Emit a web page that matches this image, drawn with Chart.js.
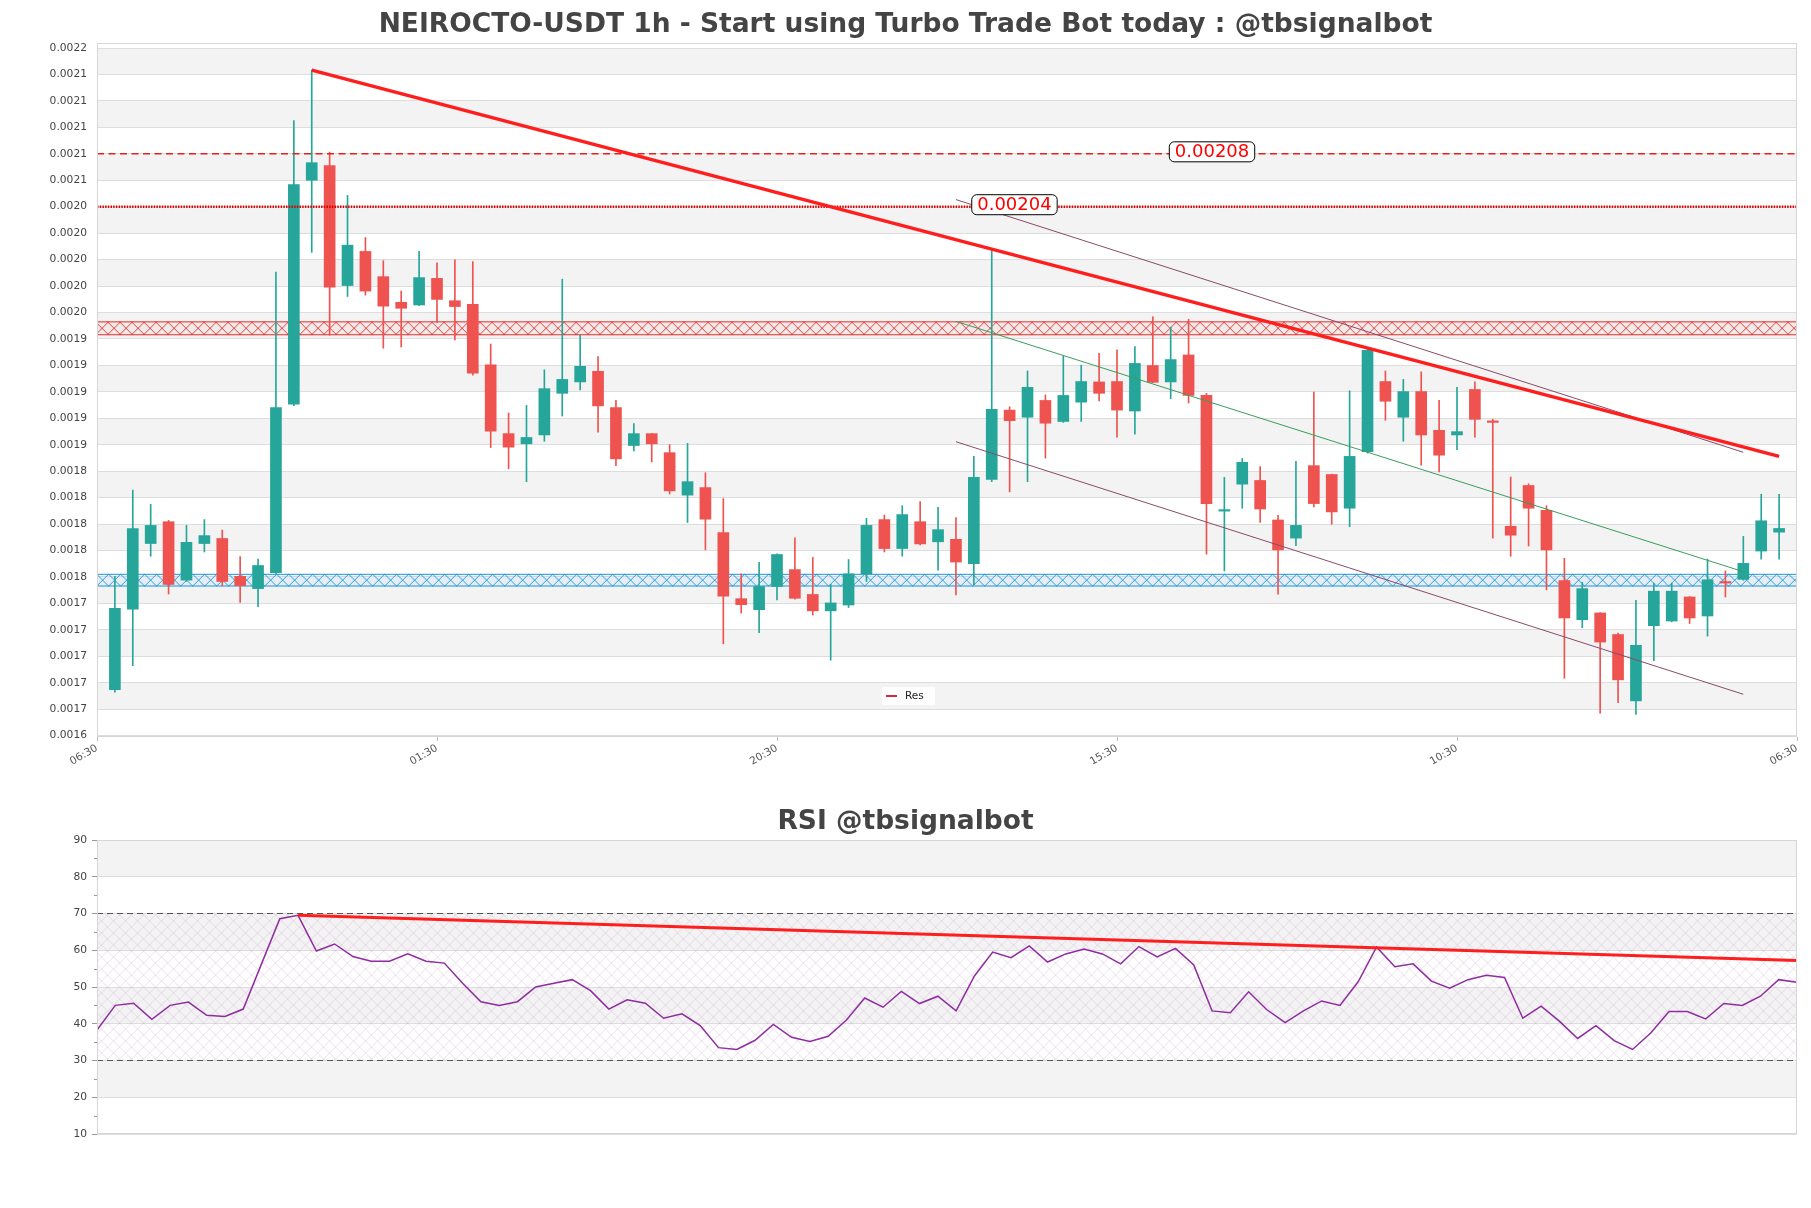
<!DOCTYPE html>
<html>
<head>
<meta charset="utf-8">
<title>NEIROCTO-USDT 1h</title>
<script src="https://cdn.jsdelivr.net/npm/chart.js@4.4.1/dist/chart.umd.min.js"></script>
<style>
  html, body { margin: 0; padding: 0; background: #fff; }
  #wrap { position: relative; width: 1811px; height: 1208px; }
  #priceBox { position: absolute; left: 0; top: 0; width: 1811px; height: 780px; }
  #rsiBox { position: absolute; left: 0; top: 780px; width: 1811px; height: 428px; }
</style>
</head>
<body>
<div id="wrap">
  <div id="priceBox"><canvas id="price"></canvas></div>
  <div id="rsiBox"><canvas id="rsi"></canvas></div>
</div>
<script>
// hourly candles, oldest first
const opens = [
  0.0016748, 0.0017356, 0.0017853, 0.0018018, 0.0017576, 0.0017853, 0.0017891, 0.0017605, 0.0017512, 0.0017633,
  0.0018906, 0.0020600, 0.0020711, 0.0019804, 0.0020062, 0.0019871, 0.0019677, 0.0019657, 0.0019858, 0.0019689,
  0.0019661, 0.0019205, 0.0018684, 0.0018607, 0.0018674, 0.0018989, 0.0019075, 0.0019155, 0.0018881, 0.0018594,
  0.0018684, 0.0018540, 0.0018219, 0.0018276, 0.0017936, 0.0017436, 0.0017353, 0.0017528, 0.0017656, 0.0017468,
  0.0017344, 0.0017388, 0.0017624, 0.0018034, 0.0017815, 0.0018018, 0.0017866, 0.0017885, 0.0017700, 0.0018337,
  0.0018862, 0.0018808, 0.0018935, 0.0018776, 0.0018922, 0.0019075, 0.0019078, 0.0018855, 0.0019199, 0.0019075,
  0.0019279, 0.0018973, 0.0018098, 0.0018302, 0.0018330, 0.0018031, 0.0017894, 0.0018442, 0.0018375, 0.0018120,
  0.0018547, 0.0019078, 0.0018808, 0.0019002, 0.0018709, 0.0018674, 0.0019018, 0.0018776, 0.0017983, 0.0018292,
  0.0018104, 0.0017573, 0.0017277, 0.0017328, 0.0017165, 0.0016663, 0.0017232, 0.0017267, 0.0017449, 0.0017305,
  0.0017560, 0.0017582, 0.0017796, 0.0017939
];
const highs = [
  0.0017605, 0.0018257, 0.0018149, 0.0018028, 0.0017990, 0.0018034, 0.0017955, 0.0017754, 0.0017735, 0.0019906,
  0.0021051, 0.0021433, 0.0020813, 0.0020485, 0.0020167, 0.0019992, 0.0019762, 0.0020062, 0.0019976, 0.0019998,
  0.0019985, 0.0019361, 0.0018840, 0.0018897, 0.0019167, 0.0019852, 0.0019428, 0.0019266, 0.0018935, 0.0018760,
  0.0018686, 0.0018601, 0.0018610, 0.0018388, 0.0018193, 0.0017624, 0.0017710, 0.0017776, 0.0017897, 0.0017748,
  0.0017544, 0.0017732, 0.0018044, 0.0018069, 0.0018139, 0.0018171, 0.0018127, 0.0018050, 0.0018512, 0.0020071,
  0.0018887, 0.0019158, 0.0018976, 0.0019269, 0.0019202, 0.0019291, 0.0019317, 0.0019342, 0.0019568, 0.0019489,
  0.0019549, 0.0018989, 0.0018353, 0.0018496, 0.0018435, 0.0018066, 0.0018474, 0.0018999, 0.0018378, 0.0019008,
  0.0019320, 0.0019158, 0.0019094, 0.0019151, 0.0018935, 0.0019034, 0.0019075, 0.0018792, 0.0018356, 0.0018305,
  0.0018139, 0.0017741, 0.0017560, 0.0017330, 0.0017175, 0.0017423, 0.0017554, 0.0017554, 0.0017452, 0.0017735,
  0.0017646, 0.0017907, 0.0018225, 0.0018225
];
const lows = [
  0.0016729, 0.0016930, 0.0017757, 0.0017471, 0.0017566, 0.0017789, 0.0017535, 0.0017407, 0.0017375, 0.0017624,
  0.0018895, 0.0020055, 0.0019428, 0.0019721, 0.0019731, 0.0019330, 0.0019339, 0.0019651, 0.0019524, 0.0019393,
  0.0019126, 0.0018579, 0.0018419, 0.0018321, 0.0018626, 0.0018817, 0.0019015, 0.0018696, 0.0018442, 0.0018553,
  0.0018470, 0.0018228, 0.0018012, 0.0017805, 0.0017095, 0.0017328, 0.0017178, 0.0017426, 0.0017433, 0.0017312,
  0.0016971, 0.0017369, 0.0017566, 0.0017789, 0.0017757, 0.0017843, 0.0017652, 0.0017465, 0.0017541, 0.0018321,
  0.0018244, 0.0018321, 0.0018499, 0.0018769, 0.0018776, 0.0018932, 0.0018658, 0.0018680, 0.0019069, 0.0018948,
  0.0018916, 0.0017773, 0.0017646, 0.0018120, 0.0018012, 0.0017471, 0.0017837, 0.0018130, 0.0017999, 0.0017980,
  0.0018537, 0.0018785, 0.0018626, 0.0018445, 0.0018394, 0.0018563, 0.0018658, 0.0017894, 0.0017757, 0.0017834,
  0.0017503, 0.0016834, 0.0017216, 0.0016570, 0.0016650, 0.0016561, 0.0016968, 0.0017261, 0.0017248, 0.0017153,
  0.0017449, 0.0017576, 0.0017735, 0.0017735
];
const closes = [
  0.0017363, 0.0017967, 0.0017990, 0.0017544, 0.0017862, 0.0017913, 0.0017566, 0.0017535, 0.0017687, 0.0018881,
  0.0020568, 0.0020733, 0.0019791, 0.0020109, 0.0019762, 0.0019648, 0.0019632, 0.0019864, 0.0019699, 0.0019645,
  0.0019142, 0.0018703, 0.0018582, 0.0018655, 0.0019024, 0.0019094, 0.0019193, 0.0018894, 0.0018493, 0.0018684,
  0.0018607, 0.0018251, 0.0018321, 0.0018037, 0.0017455, 0.0017391, 0.0017528, 0.0017770, 0.0017439, 0.0017344,
  0.0017404, 0.0017624, 0.0017990, 0.0017815, 0.0018072, 0.0017850, 0.0017958, 0.0017713, 0.0018353, 0.0018868,
  0.0018782, 0.0019034, 0.0018763, 0.0018973, 0.0019078, 0.0018989, 0.0018862, 0.0019215, 0.0019072, 0.0019244,
  0.0018973, 0.0018155, 0.0018104, 0.0018467, 0.0018114, 0.0017805, 0.0017990, 0.0018155, 0.0018092, 0.0018512,
  0.0019314, 0.0018929, 0.0019002, 0.0018674, 0.0018521, 0.0018699, 0.0018792, 0.0018769, 0.0017916, 0.0018120,
  0.0017805, 0.0017290, 0.0017512, 0.0017108, 0.0016822, 0.0017083, 0.0017493, 0.0017493, 0.0017290, 0.0017579,
  0.0017554, 0.0017703, 0.0018025, 0.0017967
];

// price axis ticks and time labels
const priceTicks = [
  0.00164, 0.00166, 0.00168, 0.00170, 0.00172, 0.00174, 0.00176, 0.00178, 0.00180,
  0.00182, 0.00184, 0.00186, 0.00188, 0.00190, 0.00192, 0.00194, 0.00196, 0.00198,
  0.00200, 0.00202, 0.00204, 0.00206, 0.00208, 0.00210, 0.00212, 0.00214, 0.00216
];
const timeTickIndex = [-1, 18, 37, 56, 75, 94];
const timeTickLabels = ['06:30', '01:30', '20:30', '15:30', '10:30', '06:30'];

// drawn levels and lines (candle index, price)
const resLineX = [11, 93];
const resLineY = [0.0021433, 0.0018512];
const channelX = [47, 91];
const channelTopY = [0.0020454, 0.0018543];
const channelMidY = [0.0019533, 0.0017640];
const channelLowY = [0.0018623, 0.0016713];
const dashedLevel = 0.00208;
const dottedLevel = 0.00204;
const resZone = [0.0019428, 0.0019533];
const supZone = [0.0017528, 0.0017624];

// RSI
const rsiValues = [
  38.3, 45.0, 45.6, 41.2, 45.0, 45.9, 42.3, 42.0, 44.0, 56.3,
  68.6, 69.5, 59.8, 61.7, 58.3, 57.0, 57.0, 59.0, 57.0, 56.5,
  51.0, 46.0, 45.0, 46.0, 50.0, 51.0, 52.0, 49.0, 44.0, 46.5,
  45.6, 41.5, 42.7, 39.5, 33.5, 33.0, 35.5, 39.8, 36.3, 35.2,
  36.6, 41.0, 47.0, 44.5, 48.8, 45.5, 47.5, 43.5, 53.0, 59.5,
  58.0, 61.2, 56.8, 59.0, 60.3, 59.0, 56.3, 61.0, 58.2, 60.5,
  56.0, 43.5, 43.0, 48.7, 43.8, 40.3, 43.5, 46.2, 45.0, 51.5,
  60.9, 55.5, 56.3, 51.6, 49.7, 52.0, 53.2, 52.6, 41.5, 44.8,
  40.7, 36.0, 39.5, 35.4, 33.0, 37.5, 43.3, 43.3, 41.3, 45.5,
  45.0, 47.5, 52.0, 51.3
];
const rsiTicks = [10, 20, 30, 40, 50, 60, 70, 80, 90];
const rsiMinorTicks = [15, 25, 35, 45, 55, 65, 75, 85];
const rsiTrendX = [11, 93];
const rsiTrendY = [69.5, 57.2];
const rsiUpper = 70;
const rsiLower = 30;

const GREEN = '#26a69a';
const RED = '#ef5350';

Chart.defaults.font.family = '"DejaVu Sans", sans-serif';
Chart.defaults.color = '#444';

function seg(xs, ys) {
  return xs.map((x, i) => ({ x: x, y: ys[i] }));
}

function hatch(ctx, a, top, bot, color, step, width, edges, fill) {
  const h = bot - top;
  ctx.save();
  ctx.beginPath();
  ctx.rect(a.left, top, a.right - a.left, h);
  ctx.clip();
  if (fill) {
    ctx.fillStyle = fill;
    ctx.fillRect(a.left, top, a.right - a.left, h);
  }
  ctx.strokeStyle = color;
  ctx.lineWidth = width;
  ctx.beginPath();
  for (let x = a.left - h; x < a.right + h; x += step) {
    ctx.moveTo(x, top); ctx.lineTo(x + h, bot);
    ctx.moveTo(x + h, top); ctx.lineTo(x, bot);
  }
  ctx.stroke();
  ctx.restore();
  if (edges) {
    ctx.save();
    ctx.strokeStyle = color;
    ctx.lineWidth = 1;
    ctx.beginPath();
    ctx.moveTo(a.left, top + 0.5); ctx.lineTo(a.right, top + 0.5);
    ctx.moveTo(a.left, bot - 0.5); ctx.lineTo(a.right, bot - 0.5);
    ctx.stroke();
    ctx.restore();
  }
}

// alternating grey bands between ticks, frame around the plot
const bandPlugin = {
  id: 'bands',
  beforeDraw(chart, args, opts) {
    const { ctx, chartArea: a } = chart;
    const y = chart.scales.y;
    const vals = opts.ticks.slice().sort((p, q) => q - p);
    ctx.save();
    ctx.fillStyle = '#f3f3f3';
    for (let k = 0; k + 1 < vals.length; k += 2) {
      const t = y.getPixelForValue(vals[k]);
      const b = y.getPixelForValue(vals[k + 1]);
      ctx.fillRect(a.left, t, a.right - a.left, b - t);
    }
    ctx.restore();
  },
  afterDraw(chart) {
    const { ctx, chartArea: a } = chart;
    ctx.save();
    ctx.strokeStyle = '#d6d6d6';
    ctx.lineWidth = 1;
    ctx.strokeRect(a.left + 0.5, a.top + 0.5, a.right - a.left - 1, a.bottom - a.top - 1);
    ctx.restore();
  }
};

function tag(ctx, cx, cy, text) {
  ctx.save();
  ctx.font = '18px "DejaVu Sans", sans-serif';
  const w = ctx.measureText(text).width + 11;
  const h = 20;
  const x = cx - w / 2, y = cy - h / 2;
  ctx.beginPath();
  ctx.roundRect(x, y, w, h, 5);
  ctx.fillStyle = '#fff';
  ctx.fill();
  ctx.strokeStyle = '#000';
  ctx.lineWidth = 1;
  ctx.stroke();
  ctx.fillStyle = '#f00';
  ctx.textAlign = 'center';
  ctx.textBaseline = 'middle';
  ctx.fillText(text, cx, cy + 1);
  ctx.restore();
}

const pricePlugin = {
  id: 'priceExtras',
  beforeDatasetsDraw(chart) {
    const { ctx, chartArea: a } = chart;
    const y = chart.scales.y;
    hatch(ctx, a, y.getPixelForValue(resZone[1]), y.getPixelForValue(resZone[0]),
      '#e0302c', 12, 0.9, true, 'rgba(255,120,120,0.08)');
    hatch(ctx, a, y.getPixelForValue(supZone[1]), y.getPixelForValue(supZone[0]),
      '#1b96e0', 12, 0.9, true, 'rgba(80,170,255,0.08)');
  },
  afterDatasetsDraw(chart) {
    const { ctx, chartArea: a } = chart;
    const x = chart.scales.x, y = chart.scales.y;
    tag(ctx, x.getPixelForValue(50.27), y.getPixelForValue(dottedLevel) - 2, String(dottedLevel));
    tag(ctx, x.getPixelForValue(61.31), y.getPixelForValue(dashedLevel) - 2, String(dashedLevel));

    // legend
    const lx = a.left + 785, ly = a.bottom - 50;
    ctx.save();
    ctx.fillStyle = 'rgba(255,255,255,0.85)';
    ctx.fillRect(lx, ly, 53, 18);
    ctx.strokeStyle = '#d42a35';
    ctx.lineWidth = 2;
    ctx.beginPath();
    ctx.moveTo(lx + 4, ly + 9); ctx.lineTo(lx + 15, ly + 9);
    ctx.stroke();
    ctx.fillStyle = '#222';
    ctx.font = '10.5px "DejaVu Sans", sans-serif';
    ctx.textBaseline = 'middle';
    ctx.fillText('Res', lx + 23, ly + 9);
    ctx.restore();
  }
};

const idx = opens.map((_, i) => i);
const candleColors = idx.map(i => closes[i] >= opens[i] ? GREEN : RED);

new Chart(document.getElementById('price'), {
  type: 'bar',
  data: {
    datasets: [
      {
        type: 'line', label: 'Res', data: seg(resLineX, resLineY),
        borderColor: '#ff1e1e', borderWidth: 3.5, pointRadius: 0, order: 0
      },
      {
        type: 'line', label: 'channel top', data: seg(channelX, channelTopY),
        borderColor: '#8a4a68', borderWidth: 1, pointRadius: 0, order: 1
      },
      {
        type: 'line', label: 'channel mid', data: seg(channelX, channelMidY),
        borderColor: '#3a9d5a', borderWidth: 1, pointRadius: 0, order: 1
      },
      {
        type: 'line', label: 'channel low', data: seg(channelX, channelLowY),
        borderColor: '#8a4a68', borderWidth: 1, pointRadius: 0, order: 1
      },
      {
        type: 'line', label: 'level dashed', data: seg([-1, 94], [dashedLevel, dashedLevel]),
        borderColor: '#e8201c', borderWidth: 1.5, borderDash: [7, 4.5], pointRadius: 0, order: 2
      },
      {
        type: 'line', label: 'level dotted', data: seg([-1, 94], [dottedLevel, dottedLevel]),
        borderColor: '#dd0000', borderWidth: 2.5, borderDash: [1.5, 1.2], pointRadius: 0, order: 2
      },
      {
        label: 'body', data: idx.map(i => ({ x: i, y: [opens[i], closes[i]] })),
        backgroundColor: candleColors, barThickness: 11, minBarLength: 1.5,
        grouped: false, order: 3
      },
      {
        label: 'wick', data: idx.map(i => ({ x: i, y: [lows[i], highs[i]] })),
        backgroundColor: candleColors, barThickness: 1, grouped: false, order: 4
      }
    ]
  },
  options: {
    responsive: true,
    maintainAspectRatio: false,
    devicePixelRatio: 1,
    animation: false,
    events: [],
    layout: { padding: { left: 14, right: 14, top: 0, bottom: 0 } },
    plugins: {
      legend: { display: false },
      tooltip: { enabled: false },
      title: {
        display: true,
        text: 'NEIROCTO-USDT 1h - Start using Turbo Trade Bot today : @tbsignalbot',
        color: '#444',
        font: { size: 26.5, weight: 'bold' },
        padding: { top: 9.6, bottom: 1.6 }
      },
      bands: { ticks: priceTicks }
    },
    scales: {
      x: {
        type: 'linear', min: -1, max: 94, offset: false,
        afterBuildTicks: s => { s.ticks = timeTickIndex.map(v => ({ value: v })); },
        afterFit: s => { s.height = 43; },
        grid: { display: true, offset: false, drawOnChartArea: false, drawTicks: true, tickLength: 4, tickColor: '#bbb' },
        border: { display: false },
        ticks: {
          autoSkip: false, minRotation: 30, maxRotation: 30, padding: 1,
          color: '#555', font: { size: 10.5 },
          callback: v => timeTickLabels[timeTickIndex.indexOf(v)]
        }
      },
      y: {
        type: 'linear', min: 0.001639, max: 0.0021638,
        afterBuildTicks: s => { s.ticks = priceTicks.map(v => ({ value: v })); },
        afterFit: s => { s.width = 83; },
        grid: { color: '#dddddd', drawTicks: false },
        border: { display: false },
        ticks: { padding: 10, color: '#444', font: { size: 10.7 }, callback: v => v.toFixed(4) }
      }
    }
  },
  plugins: [bandPlugin, pricePlugin]
});

const rsiPlugin = {
  id: 'rsiExtras',
  beforeDatasetsDraw(chart) {
    const { ctx, chartArea: a } = chart;
    const y = chart.scales.y;
    hatch(ctx, a, y.getPixelForValue(rsiUpper), y.getPixelForValue(rsiLower),
      'rgba(200,160,210,0.5)', 12, 0.7, false, null);
  },
  afterDraw(chart) {
    const { ctx, chartArea: a } = chart;
    const y = chart.scales.y;
    ctx.save();
    ctx.strokeStyle = '#999';
    ctx.lineWidth = 1;
    ctx.beginPath();
    rsiMinorTicks.forEach(v => {
      const p = Math.round(y.getPixelForValue(v)) + 0.5;
      ctx.moveTo(a.left - 3, p); ctx.lineTo(a.left, p);
    });
    ctx.stroke();
    ctx.restore();
  }
};

const rsiIdx = rsiValues.map((_, i) => i);

new Chart(document.getElementById('rsi'), {
  type: 'line',
  data: {
    datasets: [
      {
        label: 'RSI trend', data: seg(rsiTrendX, rsiTrendY),
        borderColor: '#ff1e1e', borderWidth: 3, pointRadius: 0, order: 0
      },
      {
        label: 'RSI', data: rsiIdx.map(i => ({ x: i, y: rsiValues[i] })),
        borderColor: '#8e2ca0', borderWidth: 1.5, pointRadius: 0, tension: 0, order: 1
      },
      {
        label: 'overbought', data: seg([0, 93], [rsiUpper, rsiUpper]),
        borderColor: '#555', borderWidth: 1.2, borderDash: [6, 4], pointRadius: 0, order: 2
      },
      {
        label: 'oversold', data: seg([0, 93], [rsiLower, rsiLower]),
        borderColor: '#555', borderWidth: 1.2, borderDash: [6, 4], pointRadius: 0, order: 2
      }
    ]
  },
  options: {
    responsive: true,
    maintainAspectRatio: false,
    devicePixelRatio: 1,
    animation: false,
    events: [],
    layout: { padding: { left: 14, right: 14, top: 0, bottom: 74 } },
    plugins: {
      legend: { display: false },
      tooltip: { enabled: false },
      title: {
        display: true,
        text: 'RSI @tbsignalbot',
        color: '#444',
        font: { size: 26.5, weight: 'bold' },
        padding: { top: 26.4, bottom: 1.8 }
      },
      bands: { ticks: rsiTicks }
    },
    scales: {
      x: { type: 'linear', min: 0, max: 93, display: false },
      y: {
        type: 'linear', min: 10, max: 90,
        afterBuildTicks: s => { s.ticks = rsiTicks.map(v => ({ value: v })); },
        afterFit: s => { s.width = 83; },
        grid: { color: '#dddddd', drawTicks: true, tickLength: 5, tickColor: '#999' },
        border: { display: false },
        ticks: { padding: 5, color: '#444', font: { size: 10.7 } }
      }
    }
  },
  plugins: [bandPlugin, rsiPlugin]
});
</script>
</body>
</html>
